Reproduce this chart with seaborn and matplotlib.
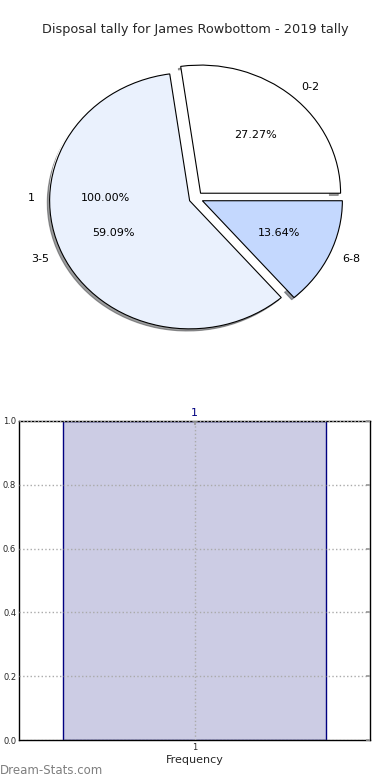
import matplotlib
matplotlib.use("Agg")
import matplotlib.pyplot as plt
import seaborn as sns

# datos
titulo = 'Disposal tally for James Rowbottom - 2019 tally'
pie_labels = ['0-2', '3-5', '6-8']
pie_values = [27.27, 59.09, 13.64]
pie_colors = ['#ffffff', '#eaf1fd', '#c4d8fe']
ghost_labels = ['1']
ghost_values = [1]
bar_categories = ['1']
bar_values = [1.0]

sns.set_theme(style="white")
plt.rcParams['font.family'] = ['DejaVu Sans']

fig = plt.figure(figsize=(3.9, 7.8), dpi=100)

# pie
ax1 = fig.add_axes([0.0, 0.551, 1.0, 0.385])
ax1.pie(ghost_values, labels=ghost_labels, autopct='%1.2f%%', explode=[0.05],
        colors=['white'], startangle=0, wedgeprops=dict(linewidth=0),
        textprops=dict(fontsize=8, color='black'))
ax1.pie(pie_values, labels=pie_labels, autopct='%1.2f%%', explode=[0.05, 0.05, 0.05],
        colors=pie_colors, startangle=0,
        shadow=dict(ox=-0.012, oy=-0.012, shade=0.75),
        wedgeprops=dict(linewidth=0.8, edgecolor='black'),
        textprops=dict(fontsize=8, color='black'))
ax1.set_aspect('auto')
ax1.set_xlim(-196 / 140, 194 / 140)
ax1.set_ylim(-152 / 128, 148 / 128)
ax1.axis('off')
fig.text(0.5, 1 - 30 / 780, titulo, ha='center', va='center', fontsize=9.3)

# barras
ax2 = fig.add_axes([19 / 390, 40 / 780, 351 / 390, 319 / 780])
sns.barplot(x=bar_categories, y=bar_values, ax=ax2, width=0.8,
            color='#ccccE4', edgecolor='#000080', linewidth=1, saturation=1)
ax2.set_xlim(-0.532, 0.532)
ax2.set_ylim(0, 1.0)
ax2.set_yticks([0.0, 0.2, 0.4, 0.6, 0.8, 1.0])
ax2.yaxis.set_major_formatter(matplotlib.ticker.FormatStrFormatter('%.1f'))
ax2.grid(True, linestyle=':', color='#aaaaaa', linewidth=1)
ax2.set_axisbelow(False)
for s in ax2.spines.values():
    s.set_color('black')
    s.set_linewidth(1)
ax2.tick_params(axis='both', labelsize=6, direction='in', length=3, color='#999999',
                top=True, right=True, pad=2)
ax2.set_xlabel('Frequency', fontsize=8, labelpad=2)
ax2.set_ylabel('')
for p, v in zip(ax2.patches, bar_categories):
    ax2.text(p.get_x() + p.get_width() / 2, p.get_height() + 0.01, v,
             ha='center', va='bottom', fontsize=8, color='#000080')

fig.text(0.0, 1 - 771 / 780, 'Dream-Stats.com', ha='left', va='center',
         fontsize=8.5, color='#7f7f7f')

fig.savefig('out.png', dpi=100)
